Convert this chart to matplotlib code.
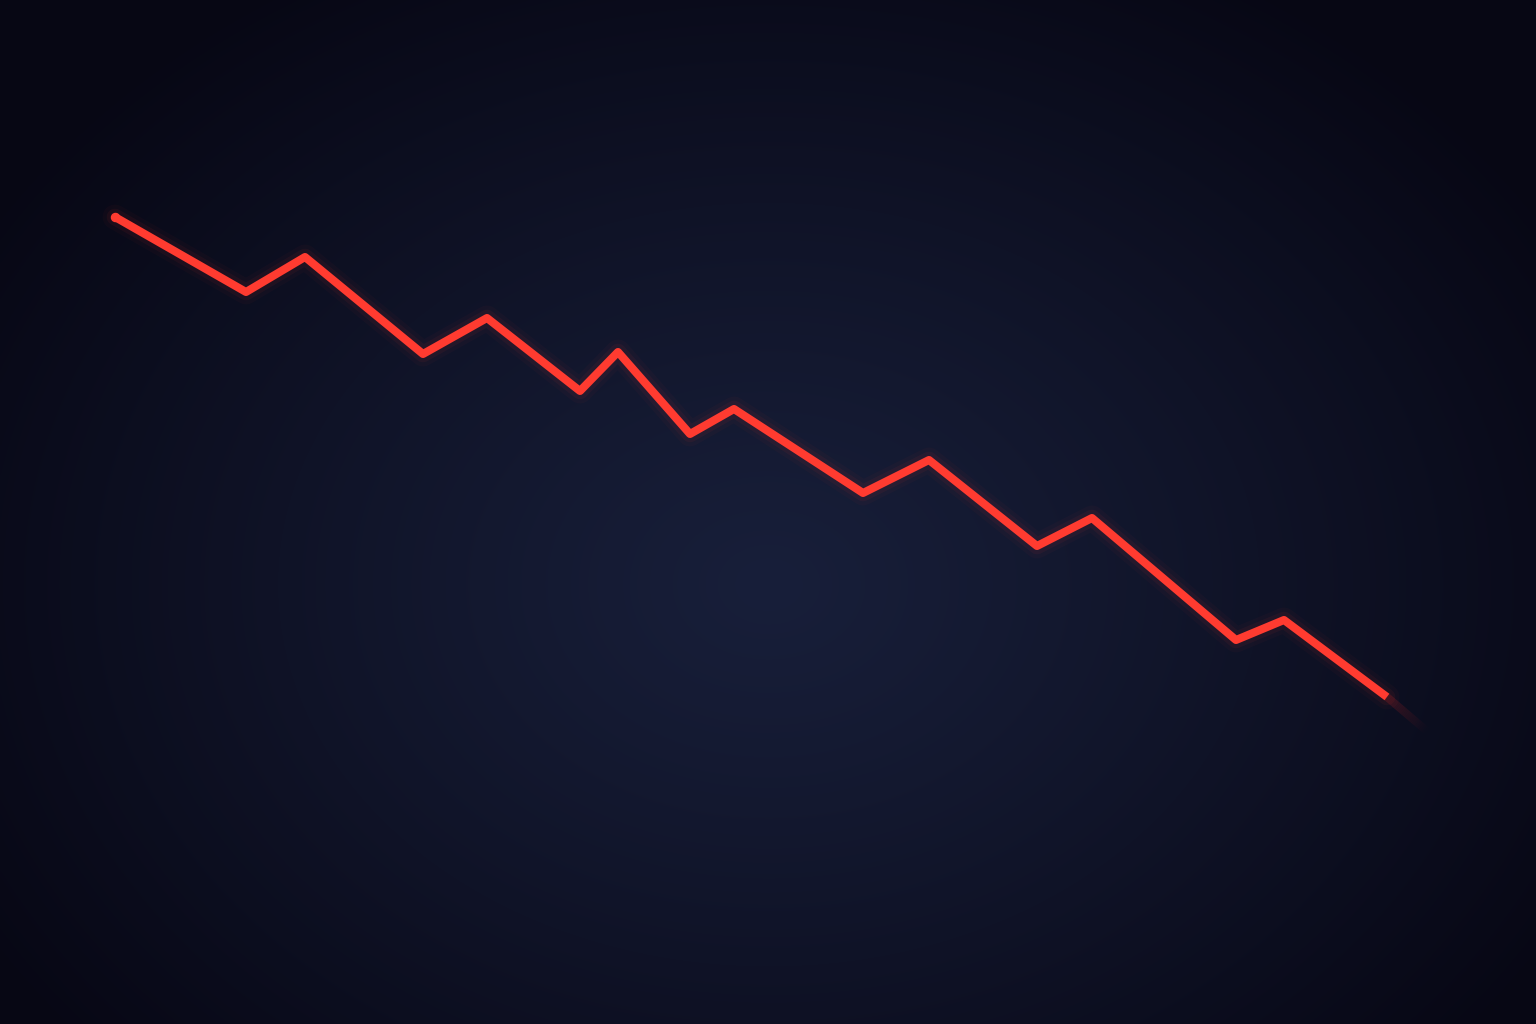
import numpy as np
import matplotlib

matplotlib.use("Agg")
import matplotlib.pyplot as plt
from matplotlib.collections import LineCollection

# series (arbitrary units)
time_idx = [11.5, 24.6, 30.5, 42.3, 48.7, 58.0, 61.8, 69.0, 73.4,
            86.3, 92.9, 103.7, 109.2, 123.6, 128.4, 138.7]
price = [80.7, 73.2, 76.7, 67.0, 70.6, 63.3, 67.2, 59.0, 61.5,
         53.1, 56.4, 47.8, 50.6, 38.4, 40.4, 32.7]
# faint fading tail after the last point
tail_end = (142.8, 29.2)

LINE = "#ff3b30"

fig = plt.figure(figsize=(15.36, 10.24), dpi=100)
ax = fig.add_axes([0, 0, 1, 1])
ax.set_xlim(0, 153.6)
ax.set_ylim(0, 102.4)
ax.axis("off")

# radial vignette background
h, w = 512, 768
yy, xx = np.mgrid[0:h, 0:w]
cx, cy = w * 0.5, h * 0.57  # from the top
r = np.sqrt(((xx - cx) / (w * 0.60)) ** 2 + ((yy - cy) / (h * 0.70)) ** 2)
t = np.clip(r, 0, 1) ** 1.1
inner = np.array([0x18, 0x1f, 0x3a]) / 255
outer = np.array([0x07, 0x07, 0x14]) / 255
bg = inner[None, None, :] * (1 - t[..., None]) + outer[None, None, :] * t[..., None]
ax.imshow(bg, extent=[0, 153.6, 0, 102.4], origin="upper", aspect="auto",
          zorder=0, interpolation="bilinear")

# soft glow + main line
for lw, a in [(18, 0.03), (12, 0.06)]:
    ax.plot(time_idx, price, color=LINE, lw=lw, alpha=a,
            solid_capstyle="round", solid_joinstyle="round", zorder=2)
ax.plot(time_idx, price, color=LINE, lw=5.8, solid_capstyle="butt",
        solid_joinstyle="round", zorder=3)
ax.plot(time_idx[:1], price[:1], "o", color=LINE, ms=5.8, zorder=3)

# fading tail
n = 30
tx = np.linspace(time_idx[-1], tail_end[0], n + 1)
ty = np.linspace(price[-1], tail_end[1], n + 1)
segs = [[(tx[i], ty[i]), (tx[i + 1], ty[i + 1])] for i in range(n)]
alphas = np.linspace(0.25, 0.0, n)
cols = [(0.75, 0.15, 0.15, a) for a in alphas]
ax.add_collection(LineCollection(segs, colors=cols, linewidths=5.8,
                                 capstyle="butt", zorder=3))

fig.savefig("out.png", dpi=100)
